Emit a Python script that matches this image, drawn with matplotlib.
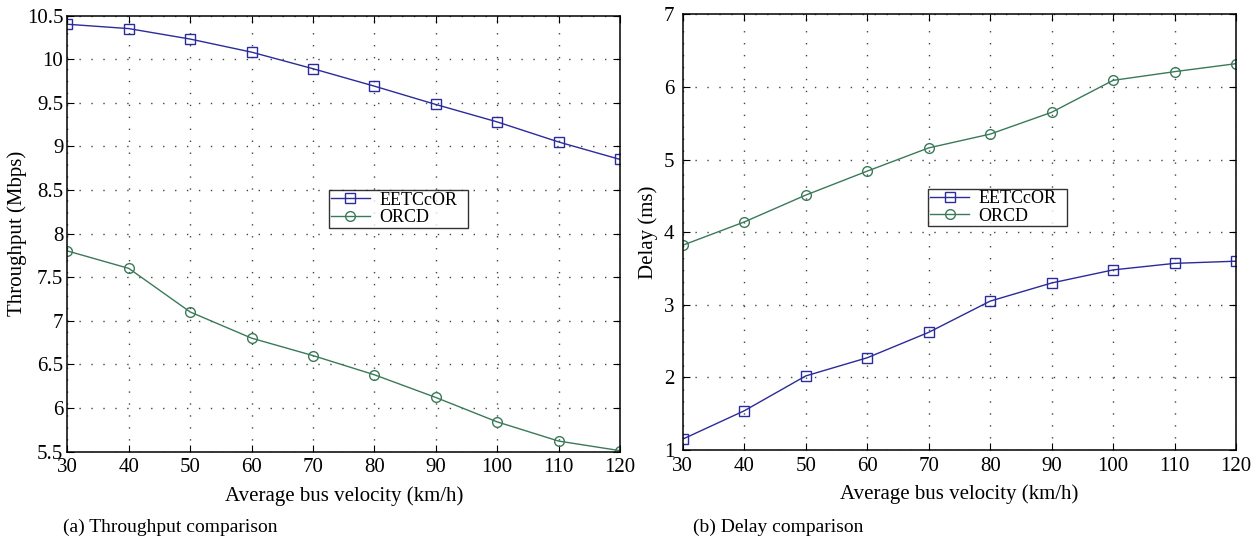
import matplotlib
matplotlib.use('Agg')
import matplotlib.pyplot as plt
import numpy as np

plt.rcParams['font.family'] = ['Liberation Serif', 'DejaVu Serif']
plt.rcParams['mathtext.fontset'] = 'stix'

# data
velocity = [30, 40, 50, 60, 70, 80, 90, 100, 110, 120]
thr_eetccor = [10.40, 10.35, 10.23, 10.08, 9.89, 9.69, 9.48, 9.28, 9.05, 8.85]
thr_orcd = [7.80, 7.60, 7.10, 6.80, 6.60, 6.38, 6.12, 5.84, 5.62, 5.51]
delay_eetccor = [1.15, 1.54, 2.02, 2.27, 2.62, 3.05, 3.30, 3.48, 3.57, 3.60]
delay_orcd = [3.82, 4.14, 4.51, 4.84, 5.16, 5.35, 5.65, 6.09, 6.21, 6.32]

thr_ticks = [5.5, 6, 6.5, 7, 7.5, 8, 8.5, 9, 9.5, 10, 10.5]
delay_ticks = [1, 2, 3, 4, 5, 6, 7]
series_names = ['EETCcOR', 'ORCD']

BLUE = '#2b2b9b'
GREEN = '#3a7a5a'

fig = plt.figure(figsize=(12.56, 5.41), dpi=100)
ax1 = fig.add_axes([0.0537, 0.1654, 0.4399, 0.8059])
ax2 = fig.add_axes([0.5436, 0.1682, 0.4405, 0.8054])


def style_axes(ax, yticks, ypad):
    ax.set_xlim(30, 120)
    ax.set_xticks(velocity)
    ax.set_ylim(yticks[0], yticks[-1])
    ax.set_yticks(yticks)
    ax.set_yticklabels([f"{t:g}" for t in yticks])
    ax.tick_params(direction='in', top=True, right=True, length=5,
                   width=0.8, labelsize=15)
    ax.tick_params(axis='x', pad=5)
    ax.tick_params(axis='y', pad=ypad)
    ax.grid(True, color='#444444', linestyle=(0, (1.0, 7.6)), linewidth=1.0)
    for s in ax.spines.values():
        s.set_linewidth(1.1)
    ax.set_xlabel('Average bus velocity (km/h)', fontsize=15, labelpad=6)


def draw(ax, y_a, y_b):
    ax.plot(velocity, y_a, color=BLUE, lw=1.0, marker='s', ms=6.5,
            mfc='none', mec=BLUE, mew=1.0, label=series_names[0])
    ax.plot(velocity, y_b, color=GREEN, lw=1.0, marker='o', ms=7,
            mfc='none', mec=GREEN, mew=1.0, label=series_names[1])


draw(ax1, thr_eetccor, thr_orcd)
style_axes(ax1, thr_ticks, 3)
ax1.set_ylabel('Throughput (Mbps)', fontsize=15, labelpad=0)

draw(ax2, delay_eetccor, delay_orcd)
style_axes(ax2, delay_ticks, 6)
ax2.set_ylabel('Delay (ms)', fontsize=15, labelpad=4)

for ax, x0 in ((ax1, 0.473), (ax2, 0.443)):
    leg = ax.legend(loc='lower left', bbox_to_anchor=(x0, 0.513, 0.252, 0.097),
                    mode='expand', fontsize=13, frameon=True, fancybox=False,
                    edgecolor='black', borderpad=0.1, labelspacing=0.02,
                    handlelength=2.2, handletextpad=0.5, borderaxespad=0)
    leg.get_frame().set_linewidth(1.0)

fig.text(0.050, 0.026, '(a) Throughput comparison', fontsize=14, va='center')
fig.text(0.552, 0.026, '(b) Delay comparison', fontsize=14, va='center')

fig.savefig('out.png', dpi=100)
